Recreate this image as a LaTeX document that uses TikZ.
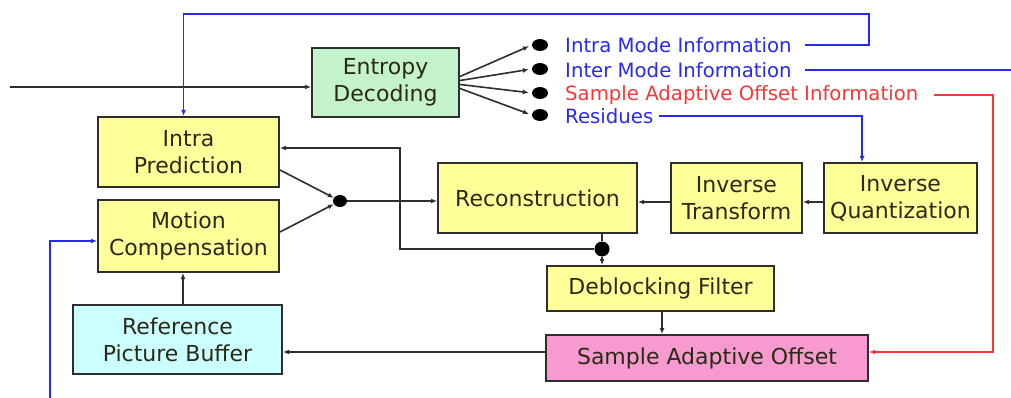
\documentclass[tikz,border=0pt]{standalone}
\usepackage{fontspec}
\setmainfont{DejaVu Sans}
\usetikzlibrary{arrows.meta,calc,shapes.geometric}
\definecolor{boxyellow}{HTML}{FFFF99}
\definecolor{boxgreen}{HTML}{C4F2CC}
\definecolor{boxcyan}{HTML}{CCFFFF}
\definecolor{boxpink}{HTML}{F79ACF}
\definecolor{infoblue}{HTML}{2A2AEE}
\definecolor{infored}{HTML}{F03A3A}
\definecolor{linegray}{HTML}{2E2E2E}
\definecolor{txtdark}{HTML}{2A2A14}
\begin{document}
\begin{tikzpicture}[x=1pt,y=-1pt,
  blk/.style={draw=linegray, line width=2pt, align=center, inner sep=1pt,
    font=\fontsize{22}{27}\selectfont, text=txtdark},
  yblk/.style={blk, fill=boxyellow},
  lbl/.style={anchor=west, inner sep=0pt, font=\fontsize{19.7}{22}\selectfont},
  dot/.style={ellipse, fill=black, inner sep=0pt, minimum width=16pt, minimum height=12pt},
  conn/.style={draw=linegray, line width=1.6pt, -{Latex[length=6pt,width=5pt]}},
  plain/.style={draw=linegray, line width=1.6pt},
  bconn/.style={draw=infoblue, line width=1.6pt},
  rconn/.style={draw=infored, line width=1.6pt}]
\useasboundingbox[fill=white] (0,0) rectangle (1011,398);

% blocks
\node[blk, fill=boxgreen, minimum width=147pt, minimum height=69pt] (entropy) at (385.5,82.5) {Entropy\\Decoding};
\node[yblk, minimum width=181pt, minimum height=70pt] (intra) at (188.5,152) {Intra\\Prediction};
\node[yblk, minimum width=181pt, minimum height=72pt] (mc) at (188.5,236) {Motion\\Compensation};
\node[blk, fill=boxcyan, minimum width=209pt, minimum height=69pt] (rpb) at (177.5,339.5) {Reference\\Picture Buffer};
\node[yblk, minimum width=199pt, minimum height=70pt] (recon) at (537.5,198) {Reconstruction};
\node[yblk, minimum width=131pt, minimum height=70pt] (itrans) at (736.5,198) {Inverse\\Transform};
\node[yblk, minimum width=153pt, minimum height=70pt] (iquant) at (900.5,198) {Inverse\\Quantization};
\node[yblk, minimum width=227pt, minimum height=45pt] (deblock) at (660.5,288.5) {Deblocking Filter};
\node[blk, fill=boxpink, minimum width=322pt, minimum height=46pt] (sao) at (707,358) {Sample Adaptive Offset};

% output dots and labels
\node[dot] (d1) at (540,45) {};
\node[dot] (d2) at (540,69) {};
\node[dot] (d3) at (540,93) {};
\node[dot] (d4) at (540,115) {};
\node[lbl, text=infoblue] (l1) at (565,45) {Intra Mode Information};
\node[lbl, text=infoblue] (l2) at (565,70) {Inter Mode Information};
\node[lbl, text=infored] (l3) at (565,95) {Sample Adaptive Offset Information};
\node[lbl, text=infoblue] (l4) at (565,116) {Residues};

% junction dots
\node[dot, minimum width=14pt, minimum height=12pt] (md) at (340,201) {};
\node[dot, minimum width=15pt, minimum height=15pt] (rd) at (602,249) {};

% coordinates
\coordinate (in) at (10,87);
\coordinate (c1) at (869,14);
\coordinate (interR) at (1011,70);
\coordinate (interB) at (50,398);
\coordinate (c3) at (993,352);
\coordinate (c4) at (862,116);
\coordinate (fb) at (400,148);

% input
\draw[conn] (in) -- (in -| entropy.west);
% fan out
\draw[conn, shorten >=3pt] ($(entropy.east)+(0,-6)$) -- (d1.west);
\draw[conn, shorten >=3pt] ($(entropy.east)+(0,-2)$) -- (d2.west);
\draw[conn, shorten >=3pt] ($(entropy.east)+(0,2)$) -- (d3.west);
\draw[conn, shorten >=3pt] ($(entropy.east)+(0,6)$) -- (d4.west);

% intra mode info
\draw[bconn, -{Latex[length=6pt,width=5pt]}] ($(l1.east)+(13,0)$) -| (c1) -| ($(intra.north)+(-5,0)$);
% inter mode info
\draw[bconn] ($(l2.east)+(13,0)$) -- (interR);
\draw[bconn, -{Latex[length=6pt,width=5pt]}] (interB) |- ($(mc.west)+(0,5)$);
% SAO info
\draw[rconn, -{Latex[length=6pt,width=5pt]}] ($(l3.east)+(16,0)$) -| (c3) -- (c3 -| sao.east);
% residues
\draw[bconn, -{Latex[length=6pt,width=5pt]}] ($(l4.east)+(6,0)$) -- (c4) -- (c4 |- iquant.north);

% main path
\draw[conn] ($(iquant.west)+(0,4)$) -- ($(itrans.east)+(0,4)$);
\draw[conn] ($(itrans.west)+(0,4)$) -- ($(recon.east)+(0,4)$);
\draw[plain] (recon.south -| rd) -- (rd);
\draw[conn] (rd) -- (rd |- deblock.north);
\draw[conn] (rd) -| (fb) -- (fb -| intra.east);
\draw[conn] ($(intra.east)+(0,18)$) -- (md);
\draw[conn] ($(mc.east)+(0,-4)$) -- (md);
\draw[conn] (md) -- (md -| recon.west);
\draw[conn] (deblock.south -| 662,0) -- (sao.north -| 662,0);
\draw[conn] ($(sao.west)+(0,-6)$) -- ($(rpb.east)+(0,12.5)$);
\draw[conn] (rpb.north -| 183,0) -- (mc.south -| 183,0);
\end{tikzpicture}
\end{document}
